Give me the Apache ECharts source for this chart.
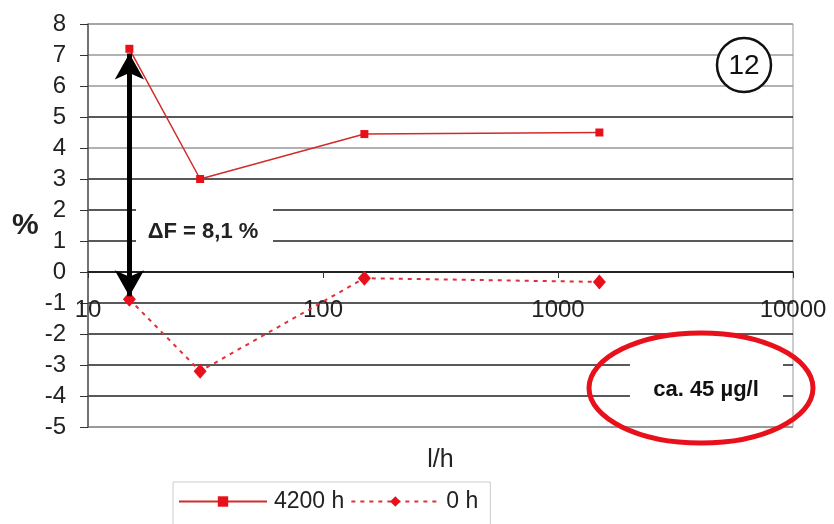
<!DOCTYPE html>
<html>
<head>
<meta charset="utf-8">
<script src="https://cdn.jsdelivr.net/npm/echarts@6/dist/echarts.min.js"></script>
<style>html,body{margin:0;padding:0;background:#fff}#c{width:834px;height:524px}</style>
</head>
<body>
<div id="c"></div>
<script>
// Data
var xValues = [15, 30, 150, 1500];
var series4200 = [7.2, 3.0, 4.45, 4.5];
var series0 = [-0.88, -3.2, -0.2, -0.32];
var seriesNames = ['4200 h', '0 h'];
var xTicks = [10, 100, 1000, 10000];
var yMin = -5, yMax = 8;
var deltaLabel = '\u0394F = 8,1 %';
var concLabel = 'ca. 45 \u00b5g/l';
var panelNo = '12';

function pairs(xs, ys) { return xs.map(function (x, i) { return [x, ys[i]]; }); }

var FONT = 'Liberation Sans, Arial, sans-serif';
var splitColors = ['#888', '#222', '#222', '#222', '#222', '#222', '#222', '#222', '#222', '#999', '#222', '#999', '#999', '#999'];

var chart = echarts.init(document.getElementById('c'), null, { renderer: 'canvas' });
chart.setOption({
  animation: false,
  backgroundColor: '#fff',
  textStyle: { fontFamily: FONT },
  grid: { left: 88, right: 41, top: 24, bottom: 97, show: true, borderColor: '#999', borderWidth: 1, containLabel: false, outerBoundsMode: 'none' },
  legend: {
    left: 173, top: 482,
    data: seriesNames,
    itemWidth: 88, itemHeight: 13, itemGap: 6,
    padding: [8, 12, 30, 5],
    borderColor: '#ccc', borderWidth: 1,
    textStyle: { fontSize: 23, color: '#222', fontFamily: FONT, padding: [0, 0, 0, 2] }
  },
  xAxis: {
    type: 'log', logBase: 10, min: xTicks[0], max: xTicks[xTicks.length - 1],
    position: 'bottom', offset: -155,
    name: 'l/h', nameLocation: 'middle', nameGap: 176,
    nameTextStyle: { fontSize: 25, color: '#222', fontFamily: FONT },
    axisLine: { onZero: false, lineStyle: { color: '#111', width: 1.5 } },
    axisTick: { show: true, length: 6, lineStyle: { color: '#333' } },
    axisLabel: { margin: 26, fontSize: 24, color: '#222', fontFamily: FONT, formatter: function (v) { return String(Math.round(v)); } },
    splitLine: { show: false },
    minorTick: { show: false }
  },
  yAxis: {
    type: 'value', min: yMin, max: yMax, interval: 1,
    name: '%', nameLocation: 'middle', nameRotate: 0, nameGap: 46,
    nameTextStyle: { fontSize: 30, fontWeight: 'bold', color: '#222', fontFamily: FONT, padding: [6, 0, 0, 0] },
    axisLine: { show: true, lineStyle: { color: '#555', width: 1.5 } },
    axisTick: { show: true, length: 8, lineStyle: { color: '#333' } },
    axisLabel: { margin: 22, fontSize: 24, color: '#222', fontFamily: FONT },
    splitLine: { show: true, lineStyle: { color: splitColors, width: 1.5 } }
  },
  series: [
    {
      name: seriesNames[0], type: 'line',
      data: pairs(xValues, series4200),
      symbol: 'rect', symbolSize: 8,
      lineStyle: { color: '#d42a2a', width: 1.5 },
      itemStyle: { color: '#e8101a' },
      z: 3,
      markLine: {
        silent: true,
        symbol: ['arrow', 'arrow'], symbolSize: [22, 26],
        label: { show: false },
        lineStyle: { color: '#000', width: 5, type: 'solid' },
        data: [[{ coord: [xValues[0], 7.05] }, { coord: [xValues[0], -0.78] }]]
      }
    },
    {
      name: seriesNames[1], type: 'line',
      data: pairs(xValues, series0),
      symbol: 'diamond', symbolSize: [13, 15],
      lineStyle: { color: '#e0303a', width: 2, type: [4, 5] },
      itemStyle: { color: '#e8101a' },
      z: 3
    }
  ],
  graphic: [
    { type: 'rect', z: 50, shape: { x: 136, y: 196, width: 137, height: 58 }, style: { fill: '#fff' } },
    { type: 'text', z: 51, x: 203, y: 232, style: { text: deltaLabel, fill: '#222', font: 'bold 22px ' + FONT, textAlign: 'center', textVerticalAlign: 'middle' } },
    { type: 'rect', z: 50, shape: { x: 630, y: 345, width: 153, height: 68 }, style: { fill: '#fff' } },
    { type: 'text', z: 51, x: 706, y: 390, style: { text: concLabel, fill: '#111', font: 'bold 22px ' + FONT, textAlign: 'center', textVerticalAlign: 'middle' } },
    { type: 'ellipse', z: 52, shape: { cx: 701, cy: 388, rx: 112, ry: 55 }, style: { fill: 'none', stroke: '#e8101a', lineWidth: 5 } },
    { type: 'circle', z: 50, shape: { cx: 744, cy: 65, r: 27 }, style: { fill: '#fff', stroke: '#111', lineWidth: 2.5 } },
    { type: 'text', z: 51, x: 744, y: 66, style: { text: panelNo, fill: '#111', font: '28px ' + FONT, textAlign: 'center', textVerticalAlign: 'middle' } }
  ]
});
</script>
</body>
</html>
